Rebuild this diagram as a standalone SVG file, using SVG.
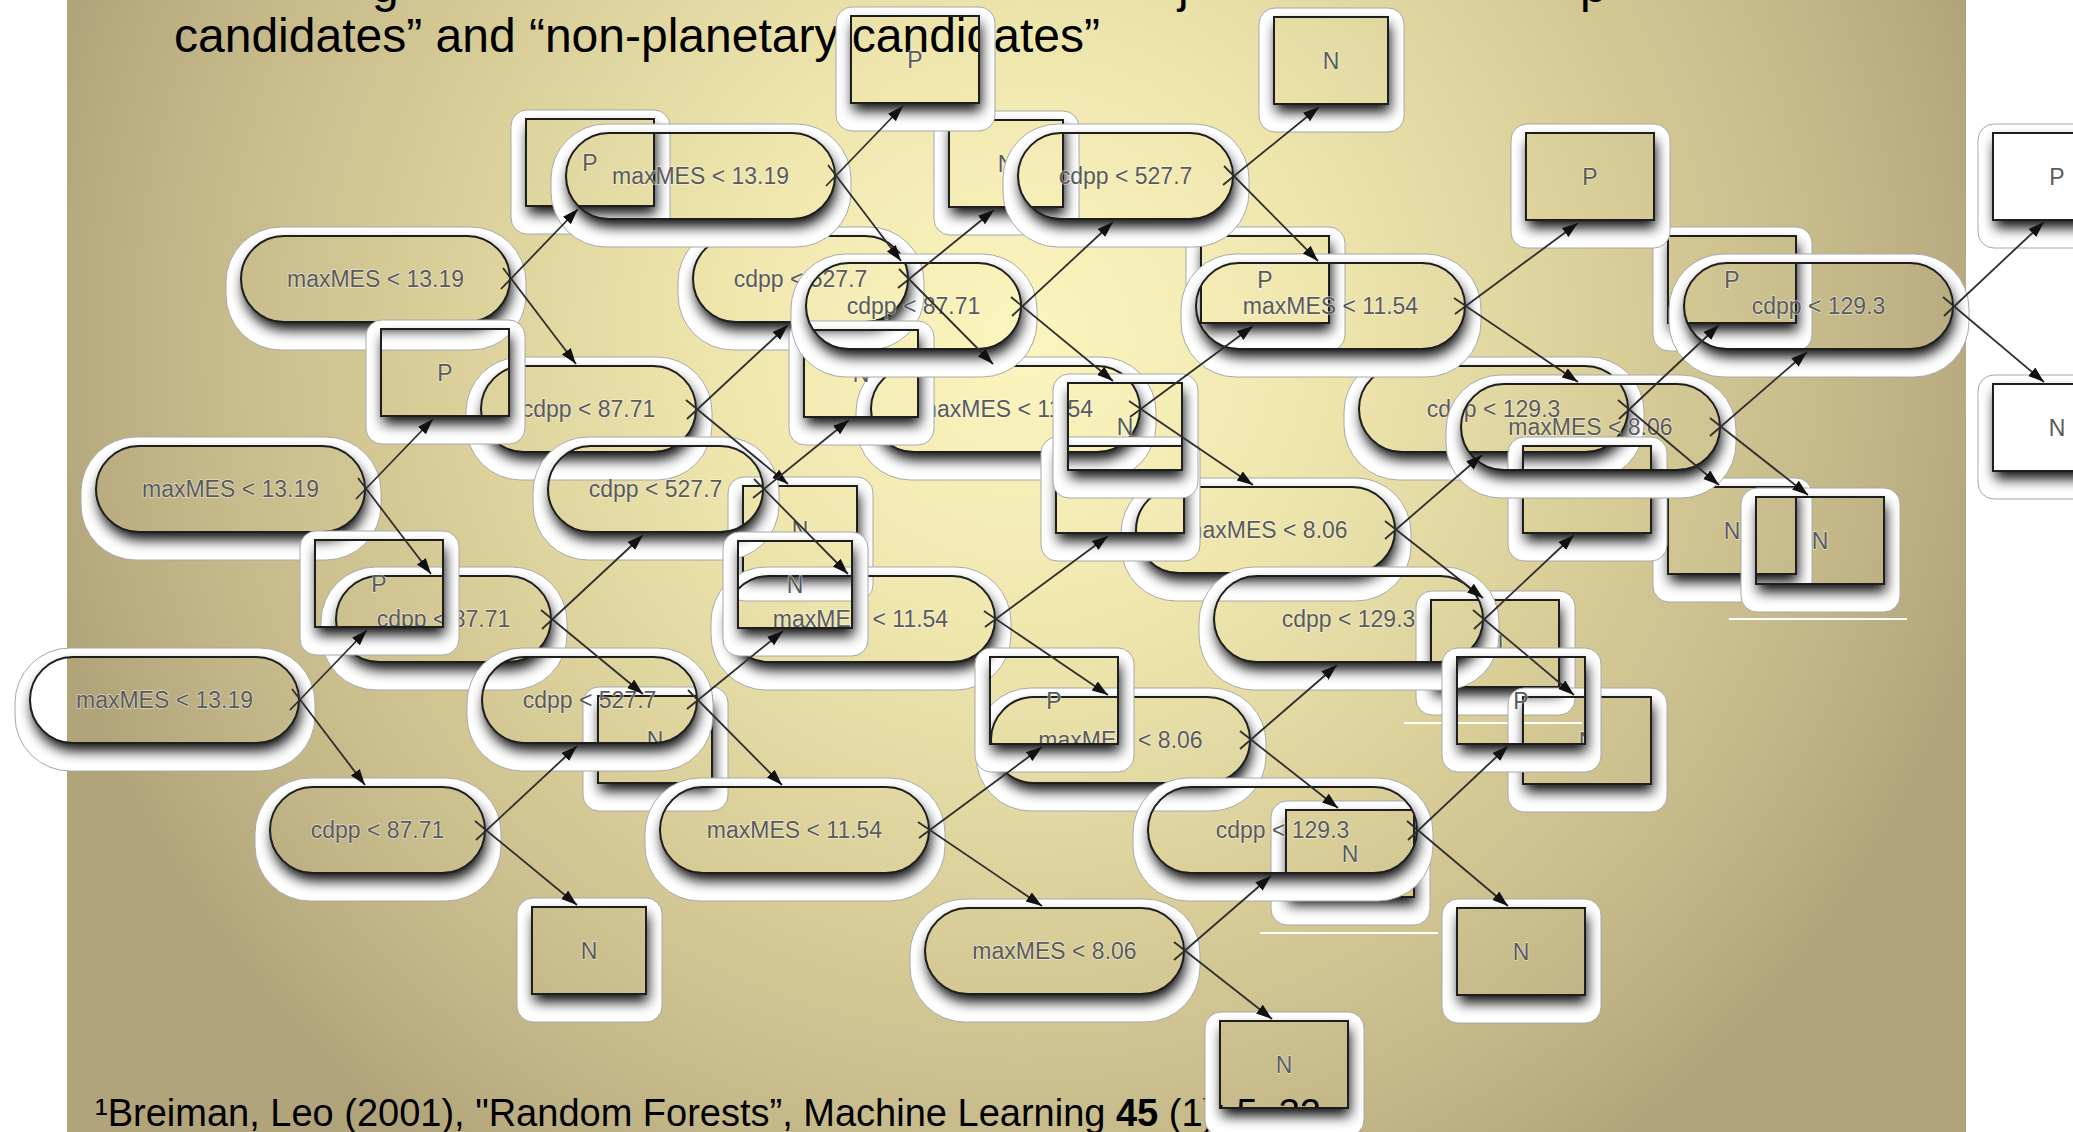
<svg xmlns="http://www.w3.org/2000/svg" width="2073" height="1132" viewBox="0 0 2073 1132">
<defs>
  <radialGradient id="slideBg" gradientUnits="userSpaceOnUse" cx="1020" cy="340" r="1000">
    <stop offset="0" stop-color="#fbf6be"/>
    <stop offset="0.3" stop-color="#efe6ae"/>
    <stop offset="0.6" stop-color="#d8cd97"/>
    <stop offset="0.85" stop-color="#c2b688"/>
    <stop offset="1" stop-color="#b1a47a"/>
  </radialGradient>
  <!-- soft drop shadow kept outside the node outline -->
  <filter id="drop" x="-15%" y="-25%" width="135%" height="180%">
    <feGaussianBlur in="SourceAlpha" stdDeviation="6.5"/>
    <feOffset dx="1.5" dy="8" result="s"/>
    <feComposite in="s" in2="SourceAlpha" operator="out" result="o"/>
    <feComponentTransfer in="o"><feFuncA type="linear" slope="0.95"/></feComponentTransfer>
  </filter>
  <marker id="arrow" markerUnits="userSpaceOnUse" markerWidth="17" markerHeight="12" refX="16" refY="5.5" orient="auto">
    <path d="M0,0 L16,5.5 L0,11 Z" fill="#111"/>
  </marker>
  <style>
    .band{fill:#fff;fill-rule:evenodd;stroke:#a8a8a8;stroke-width:1}
    .shd{fill:#000}
    .edge{fill:none;stroke:#1e1e1e;stroke-width:2}
    .lbl{font-family:"Liberation Sans",Arial,sans-serif;font-size:23px;fill:#5a5a5a;text-anchor:middle;stroke:#fff;stroke-opacity:.55;stroke-width:1.4px;paint-order:stroke}
    .wire{fill:none;stroke:#2e2e2e;stroke-width:1.8;marker-end:url(#arrow)}
    .title{font-family:"Liberation Sans",Arial,sans-serif;font-size:48px;fill:#000}
    .note{font-family:"Liberation Sans",Arial,sans-serif;font-size:38px;fill:#000}
    .glint{stroke:#fff;stroke-width:2}
  </style>

  <!-- node shapes: white halo band, shadow, outline -->
  <g id="box128">
    <path class="band" d="M1,-9 H128 A16,16 0 0 1 144,7 V99 A16,16 0 0 1 128,115 H1 A16,16 0 0 1 -15,99 V7 A16,16 0 0 1 1,-9 Z M0,0 V87 H128 V0 Z"/>
    <rect class="shd" width="128" height="87" filter="url(#drop)"/>
    <rect class="edge" width="128" height="87"/>
  </g>
  <g id="box114">
    <path class="band" d="M1,-9 H114 A16,16 0 0 1 130,7 V99 A16,16 0 0 1 114,115 H1 A16,16 0 0 1 -15,99 V7 A16,16 0 0 1 1,-9 Z M0,0 V87 H114 V0 Z"/>
    <rect class="shd" width="114" height="87" filter="url(#drop)"/>
    <rect class="edge" width="114" height="87"/>
  </g>
  <g id="pill269">
    <path class="band" d="M40,-9 H230 A55,55 0 0 1 285,46 V59 A55,55 0 0 1 230,114 H40 A55,55 0 0 1 -15,59 V46 A55,55 0 0 1 40,-9 Z M43,0 H226 A43,43 0 0 1 226,86 H43 A43,43 0 0 1 43,0 Z"/>
    <rect class="shd" width="269" height="86" rx="43" filter="url(#drop)"/>
    <rect class="edge" width="269" height="86" rx="43"/>
  </g>
  <g id="pill259">
    <path class="band" d="M40,-9 H220 A55,55 0 0 1 275,46 V59 A55,55 0 0 1 220,114 H40 A55,55 0 0 1 -15,59 V46 A55,55 0 0 1 40,-9 Z M43,0 H216 A43,43 0 0 1 216,86 H43 A43,43 0 0 1 43,0 Z"/>
    <rect class="shd" width="259" height="86" rx="43" filter="url(#drop)"/>
    <rect class="edge" width="259" height="86" rx="43"/>
  </g>
  <g id="pill215">
    <path class="band" d="M40,-9 H176 A55,55 0 0 1 231,46 V59 A55,55 0 0 1 176,114 H40 A55,55 0 0 1 -15,59 V46 A55,55 0 0 1 40,-9 Z M43,0 H172 A43,43 0 0 1 172,86 H43 A43,43 0 0 1 43,0 Z"/>
    <rect class="shd" width="215" height="86" rx="43" filter="url(#drop)"/>
    <rect class="edge" width="215" height="86" rx="43"/>
  </g>
</defs>

<!-- page and slide -->
<rect width="2073" height="1132" fill="#fff"/>
<rect x="67" y="0" width="1899" height="1132" fill="url(#slideBg)"/>

<line class="glint" x1="1729" y1="619" x2="1907" y2="619"/>
<line class="glint" x1="1404" y1="723" x2="1582" y2="723"/>
<line class="glint" x1="1260" y1="933" x2="1438" y2="933"/>

<!-- heading -->
<text class="title" y="2"><tspan x="372">g</tspan><tspan x="1178">j</tspan><tspan x="1580">p</tspan></text>
<text class="title" x="174" y="52">candidates” and “non-planetary candidates”</text>

<!-- reference note -->
<text class="note" x="95" y="1126">¹Breiman, Leo (2001), "Random Forests”, Machine Learning <tspan font-weight="bold">45</tspan> (1): 5–32</text>

<!-- tree 3 -->
<g id="tree3">
  <g id="t3-n1" transform="translate(241,236)"><use href="#pill269"/><text class="lbl" x="134.5" y="51">maxMES &lt; 13.19</text></g>
  <g id="t3-n2" transform="translate(526,119)"><use href="#box128"/><text class="lbl" x="64" y="52">P</text></g>
  <g id="t3-n3" transform="translate(481,366)"><use href="#pill215"/><text class="lbl" x="107.5" y="51">cdpp &lt; 87.71</text></g>
  <g id="t3-n4" transform="translate(693,236)"><use href="#pill215"/><text class="lbl" x="107.5" y="51">cdpp &lt; 527.7</text></g>
  <g id="t3-n5" transform="translate(949,120)"><use href="#box114"/><text class="lbl" x="57" y="52">N</text></g>
  <g id="t3-n6" transform="translate(743,486)"><use href="#box114"/><text class="lbl" x="57" y="52">N</text></g>
  <g id="t3-n7" transform="translate(871,366)"><use href="#pill269"/><text class="lbl" x="134.5" y="51">maxMES &lt; 11.54</text></g>
  <g id="t3-n8" transform="translate(1201,236)"><use href="#box128"/><text class="lbl" x="64" y="52">P</text></g>
  <g id="t3-n9" transform="translate(1136,487)"><use href="#pill259"/><text class="lbl" x="129.5" y="51">maxMES &lt; 8.06</text></g>
  <g id="t3-n10" transform="translate(1359,366)"><use href="#pill269"/><text class="lbl" x="134.5" y="51">cdpp &lt; 129.3</text></g>
  <g id="t3-n11" transform="translate(1431,600)"><use href="#box128"/><text class="lbl" x="64" y="52">N</text></g>
  <g id="t3-n12" transform="translate(1668,236)"><use href="#box128"/><text class="lbl" x="64" y="52">P</text></g>
  <g id="t3-n13" transform="translate(1668,487)"><use href="#box128"/><text class="lbl" x="64" y="52">N</text></g>
</g>

<!-- tree 2 -->
<g id="tree2">
  <g id="t2-n1" transform="translate(96,446)"><use href="#pill269"/><text class="lbl" x="134.5" y="51">maxMES &lt; 13.19</text></g>
  <g id="t2-n2" transform="translate(381,329)"><use href="#box128"/><text class="lbl" x="64" y="52">P</text></g>
  <g id="t2-n3" transform="translate(336,576)"><use href="#pill215"/><text class="lbl" x="107.5" y="51">cdpp &lt; 87.71</text></g>
  <g id="t2-n4" transform="translate(548,446)"><use href="#pill215"/><text class="lbl" x="107.5" y="51">cdpp &lt; 527.7</text></g>
  <g id="t2-n5" transform="translate(804,330)"><use href="#box114"/><text class="lbl" x="57" y="52">N</text></g>
  <g id="t2-n6" transform="translate(598,696)"><use href="#box114"/><text class="lbl" x="57" y="52">N</text></g>
  <g id="t2-n7" transform="translate(726,576)"><use href="#pill269"/><text class="lbl" x="134.5" y="51">maxMES &lt; 11.54</text></g>
  <g id="t2-n8" transform="translate(1056,446)"><use href="#box128"/><text class="lbl" x="64" y="52">P</text></g>
  <g id="t2-n9" transform="translate(991,697)"><use href="#pill259"/><text class="lbl" x="129.5" y="51">maxMES &lt; 8.06</text></g>
  <g id="t2-n10" transform="translate(1214,576)"><use href="#pill269"/><text class="lbl" x="134.5" y="51">cdpp &lt; 129.3</text></g>
  <g id="t2-n11" transform="translate(1286,810)"><use href="#box128"/><text class="lbl" x="64" y="52">N</text></g>
  <g id="t2-n12" transform="translate(1523,446)"><use href="#box128"/><text class="lbl" x="64" y="52">P</text></g>
  <g id="t2-n13" transform="translate(1523,697)"><use href="#box128"/><text class="lbl" x="64" y="52">N</text></g>
</g>

<!-- tree 4 -->
<g id="tree4">
  <g id="t4-n1" transform="translate(566,133)"><use href="#pill269"/><text class="lbl" x="134.5" y="51">maxMES &lt; 13.19</text></g>
  <g id="t4-n2" transform="translate(851,16)"><use href="#box128"/><text class="lbl" x="64" y="52">P</text></g>
  <g id="t4-n3" transform="translate(806,263)"><use href="#pill215"/><text class="lbl" x="107.5" y="51">cdpp &lt; 87.71</text></g>
  <g id="t4-n4" transform="translate(1018,133)"><use href="#pill215"/><text class="lbl" x="107.5" y="51">cdpp &lt; 527.7</text></g>
  <g id="t4-n5" transform="translate(1274,17)"><use href="#box114"/><text class="lbl" x="57" y="52">N</text></g>
  <g id="t4-n6" transform="translate(1068,383)"><use href="#box114"/><text class="lbl" x="57" y="52">N</text></g>
  <g id="t4-n7" transform="translate(1196,263)"><use href="#pill269"/><text class="lbl" x="134.5" y="51">maxMES &lt; 11.54</text></g>
  <g id="t4-n8" transform="translate(1526,133)"><use href="#box128"/><text class="lbl" x="64" y="52">P</text></g>
  <g id="t4-n9" transform="translate(1461,384)"><use href="#pill259"/><text class="lbl" x="129.5" y="51">maxMES &lt; 8.06</text></g>
  <g id="t4-n10" transform="translate(1684,263)"><use href="#pill269"/><text class="lbl" x="134.5" y="51">cdpp &lt; 129.3</text></g>
  <g id="t4-n11" transform="translate(1756,497)"><use href="#box128"/><text class="lbl" x="64" y="52">N</text></g>
  <g id="t4-n12" transform="translate(1993,133)"><use href="#box128"/><text class="lbl" x="64" y="52">P</text></g>
  <g id="t4-n13" transform="translate(1993,384)"><use href="#box128"/><text class="lbl" x="64" y="52">N</text></g>
</g>

<!-- tree 1 -->
<g id="tree1">
  <g id="t1-n1" transform="translate(30,657)"><use href="#pill269"/><text class="lbl" x="134.5" y="51">maxMES &lt; 13.19</text></g>
  <g id="t1-n2" transform="translate(315,540)"><use href="#box128"/><text class="lbl" x="64" y="52">P</text></g>
  <g id="t1-n3" transform="translate(270,787)"><use href="#pill215"/><text class="lbl" x="107.5" y="51">cdpp &lt; 87.71</text></g>
  <g id="t1-n4" transform="translate(482,657)"><use href="#pill215"/><text class="lbl" x="107.5" y="51">cdpp &lt; 527.7</text></g>
  <g id="t1-n5" transform="translate(738,541)"><use href="#box114"/><text class="lbl" x="57" y="52">N</text></g>
  <g id="t1-n6" transform="translate(532,907)"><use href="#box114"/><text class="lbl" x="57" y="52">N</text></g>
  <g id="t1-n7" transform="translate(660,787)"><use href="#pill269"/><text class="lbl" x="134.5" y="51">maxMES &lt; 11.54</text></g>
  <g id="t1-n8" transform="translate(990,657)"><use href="#box128"/><text class="lbl" x="64" y="52">P</text></g>
  <g id="t1-n9" transform="translate(925,908)"><use href="#pill259"/><text class="lbl" x="129.5" y="51">maxMES &lt; 8.06</text></g>
  <g id="t1-n10" transform="translate(1148,787)"><use href="#pill269"/><text class="lbl" x="134.5" y="51">cdpp &lt; 129.3</text></g>
  <g id="t1-n11" transform="translate(1220,1021)"><use href="#box128"/><text class="lbl" x="64" y="52">N</text></g>
  <g id="t1-n12" transform="translate(1457,657)"><use href="#box128"/><text class="lbl" x="64" y="52">P</text></g>
  <g id="t1-n13" transform="translate(1457,908)"><use href="#box128"/><text class="lbl" x="64" y="52">N</text></g>
</g>

<!-- branches: upper edge = test true, lower edge = test false -->
<g id="connectors">
  <g id="edges-t3" transform="translate(211,-421)">
    <path class="wire" d="M290,710 L367,630"/><path class="wire" d="M292,689 L365,785"/>
    <path class="wire" d="M476,840 L577,746"/><path class="wire" d="M475,821 L577,905"/>
    <path class="wire" d="M687,709 L783,631"/><path class="wire" d="M688,690 L782,785"/>
    <path class="wire" d="M919,838 L1042,747"/><path class="wire" d="M918,822 L1042,906"/>
    <path class="wire" d="M1174,960 L1271,876"/><path class="wire" d="M1174,942 L1272,1019"/>
    <path class="wire" d="M1408,840 L1508,746"/><path class="wire" d="M1407,821 L1508,906"/>
  </g>
  <g id="edges-t2" transform="translate(66,-211)">
    <path class="wire" d="M290,710 L367,630"/><path class="wire" d="M292,689 L365,785"/>
    <path class="wire" d="M476,840 L577,746"/><path class="wire" d="M475,821 L577,905"/>
    <path class="wire" d="M687,709 L783,631"/><path class="wire" d="M688,690 L782,785"/>
    <path class="wire" d="M919,838 L1042,747"/><path class="wire" d="M918,822 L1042,906"/>
    <path class="wire" d="M1174,960 L1271,876"/><path class="wire" d="M1174,942 L1272,1019"/>
    <path class="wire" d="M1408,840 L1508,746"/><path class="wire" d="M1407,821 L1508,906"/>
  </g>
  <g id="edges-t4" transform="translate(536,-524)">
    <path class="wire" d="M290,710 L367,630"/><path class="wire" d="M292,689 L365,785"/>
    <path class="wire" d="M476,840 L577,746"/><path class="wire" d="M475,821 L577,905"/>
    <path class="wire" d="M687,709 L783,631"/><path class="wire" d="M688,690 L782,785"/>
    <path class="wire" d="M919,838 L1042,747"/><path class="wire" d="M918,822 L1042,906"/>
    <path class="wire" d="M1174,960 L1271,876"/><path class="wire" d="M1174,942 L1272,1019"/>
    <path class="wire" d="M1408,840 L1508,746"/><path class="wire" d="M1407,821 L1508,906"/>
  </g>
  <g id="edges-t1">
    <path class="wire" d="M290,710 L367,630"/><path class="wire" d="M292,689 L365,785"/>
    <path class="wire" d="M476,840 L577,746"/><path class="wire" d="M475,821 L577,905"/>
    <path class="wire" d="M687,709 L783,631"/><path class="wire" d="M688,690 L782,785"/>
    <path class="wire" d="M919,838 L1042,747"/><path class="wire" d="M918,822 L1042,906"/>
    <path class="wire" d="M1174,960 L1271,876"/><path class="wire" d="M1174,942 L1272,1019"/>
    <path class="wire" d="M1408,840 L1508,746"/><path class="wire" d="M1407,821 L1508,906"/>
  </g>
</g>
</svg>
